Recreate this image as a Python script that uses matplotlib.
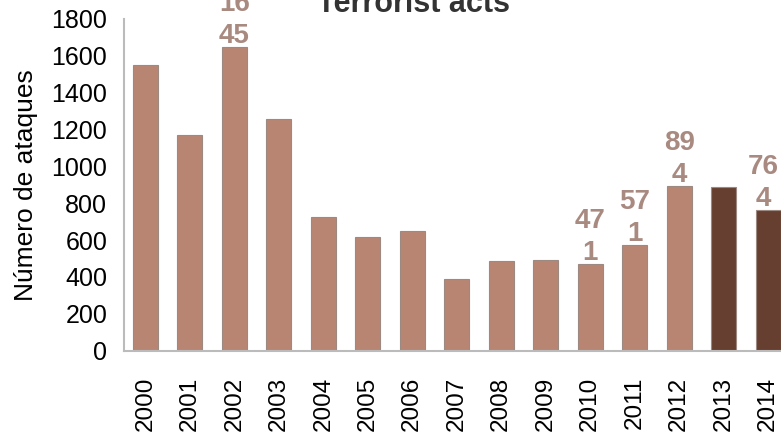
import matplotlib.pyplot as plt
import numpy as np

plt.rcParams["font.family"] = ["Liberation Sans", "DejaVu Sans"]

years = [str(y) for y in range(2000, 2015)]
attacks = [1550, 1171, 1645, 1257, 726, 615, 649, 390, 488, 491, 471, 571, 894, 889, 764]
labelled_years = ["2002", "2010", "2011", "2012", "2014"]
highlight_years = ["2013", "2014"]

light = "#B98573"
dark = "#673F30"
label_color = "#A88A80"

fig = plt.figure(figsize=(7.81, 4.41), dpi=100)
ax = fig.add_axes([124 / 781, 1 - 350.7 / 441, 1 - 124 / 781, (350.7 - 18.6) / 441])

x = np.arange(len(years))
colors = [dark if y in highlight_years else light for y in years]
ax.bar(x, attacks, width=0.56, color=colors, edgecolor="#9C8A82", linewidth=0.8, zorder=2)

for i, (y, v) in enumerate(zip(years, attacks)):
    if y in labelled_years:
        s = str(v)
        # last label sits a little left so it stays inside the picture
        dx = -3.5 if i == len(years) - 1 else 0
        ax.annotate(s[:2] + "\n" + s[2:], (i, v), xytext=(dx, -1.5), textcoords="offset points",
                    ha="center", va="bottom", fontsize=20, fontweight="bold",
                    color=label_color, linespacing=1.3, annotation_clip=False)

ax.set_xlim(-0.48, 14.29)
ax.set_ylim(0, 1800)
ax.set_yticks(range(0, 1801, 200))
ax.set_xticks(x)
ax.set_xticklabels(years, rotation=90)
ax.tick_params(axis="y", length=0, pad=12, labelsize=18)
ax.tick_params(axis="x", length=0, pad=19, labelsize=17.5)
ax.set_ylabel("Número de ataques", fontsize=19, labelpad=10)

for side in ["top", "right"]:
    ax.spines[side].set_visible(False)
for side in ["left", "bottom"]:
    ax.spines[side].set_color("#BBBBBB")
    ax.spines[side].set_linewidth(1.5)

fig.text(414 / 781, 1 - 12 / 441, "Terrorist acts", ha="center", va="baseline",
         fontsize=22, fontweight="bold", color="#333333")

fig.savefig("out.png", dpi=100)
